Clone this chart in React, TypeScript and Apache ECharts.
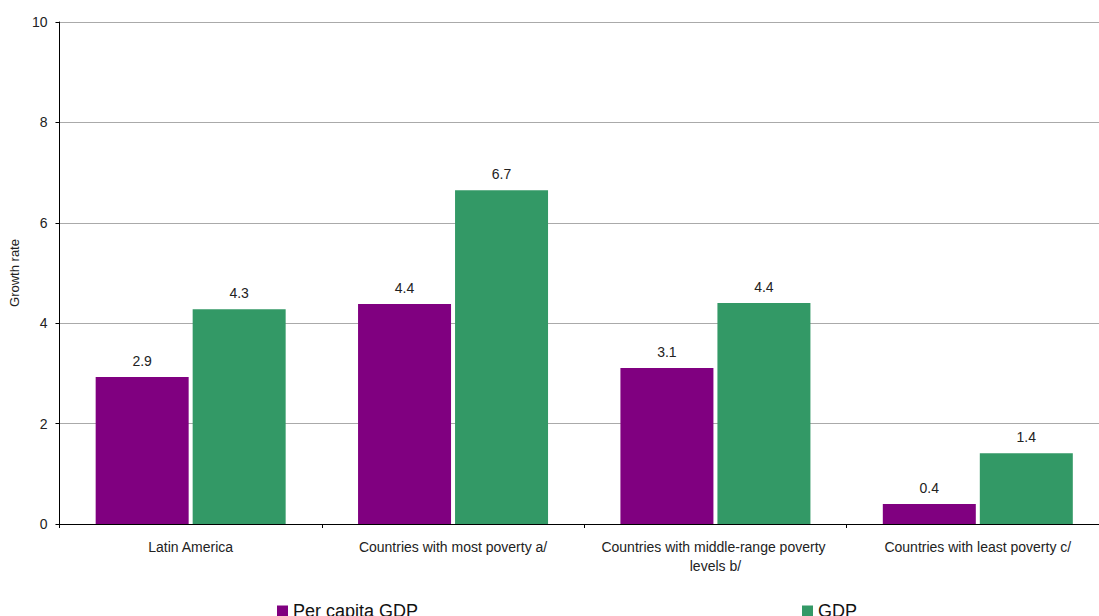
import React, { useEffect, useRef } from "react";
import * as echarts from "echarts";

const categories = [
  "Latin America",
  "Countries with most poverty a/",
  "Countries with middle-range poverty levels b/",
  "Countries with least poverty c/",
];
const perCapitaGDP = [2.93, 4.38, 3.11, 0.4];
const gdp = [4.28, 6.65, 4.4, 1.41];
const seriesNames = ["Per capita GDP", "GDP"];
const yTicks = { min: 0, max: 10, interval: 2 };

const FONT = "'Liberation Sans', Arial, Helvetica, sans-serif";

export default function App() {
  const ref = useRef<HTMLDivElement>(null);
  useEffect(() => {
    if (!ref.current) return;
    const chart = echarts.init(ref.current, undefined, { renderer: "svg" });
    const label = {
      show: true,
      position: "top" as const,
      distance: 9,
      fontFamily: FONT,
      fontSize: 14,
      color: "#222",
      formatter: (p: any) => Number(p.value).toFixed(1),
    };
    const legendText = { fontFamily: FONT, fontSize: 18, color: "#111" };
    chart.setOption({
      animation: false,
      textStyle: { fontFamily: FONT },
      grid: { left: 57, right: 11, top: 22, bottom: 92, containLabel: false },
      legend: [
        {
          data: [seriesNames[0]],
          left: 277,
          top: 602,
          icon: "rect",
          itemWidth: 11,
          itemHeight: 11,
          textStyle: legendText,
          padding: 0,
        },
        {
          data: [seriesNames[1]],
          left: 802,
          top: 602,
          icon: "rect",
          itemWidth: 11,
          itemHeight: 11,
          textStyle: legendText,
          padding: 0,
        },
      ],
      xAxis: {
        type: "category",
        data: categories,
        axisLine: { show: true, lineStyle: { color: "#000", width: 1 } },
        axisTick: { show: true, length: 4, lineStyle: { color: "#000" } },
        axisLabel: {
          fontFamily: FONT,
          fontSize: 14,
          color: "#222",
          margin: 13,
          width: 248,
          overflow: "break",
          lineHeight: 19,
          interval: 0,
        },
        splitLine: { show: false },
      },
      yAxis: {
        type: "value",
        min: yTicks.min,
        max: yTicks.max,
        interval: yTicks.interval,
        name: "Growth rate",
        nameLocation: "middle",
        nameGap: 38,
        nameTextStyle: { fontFamily: FONT, fontSize: 13, color: "#222" },
        axisLine: { show: true, lineStyle: { color: "#000", width: 1 } },
        axisTick: { show: true, length: 4, lineStyle: { color: "#000" } },
        axisLabel: { fontFamily: FONT, fontSize: 14, color: "#222", margin: 12 },
        splitLine: { show: true, lineStyle: { color: "#aaa", width: 1 } },
      },
      series: [
        {
          name: seriesNames[0],
          type: "bar",
          data: perCapitaGDP,
          barWidth: 93,
          barGap: "4.3%",
          itemStyle: { color: "#800080" },
          label,
        },
        {
          name: seriesNames[1],
          type: "bar",
          data: gdp,
          barWidth: 93,
          barGap: "4.3%",
          itemStyle: { color: "#339966" },
          label,
        },
      ],
    });
    return () => chart.dispose();
  }, []);
  return (
    <div
      ref={ref}
      style={{ position: "fixed", left: 0, top: 0, width: 1120, height: 616, background: "#fff" }}
    />
  );
}
